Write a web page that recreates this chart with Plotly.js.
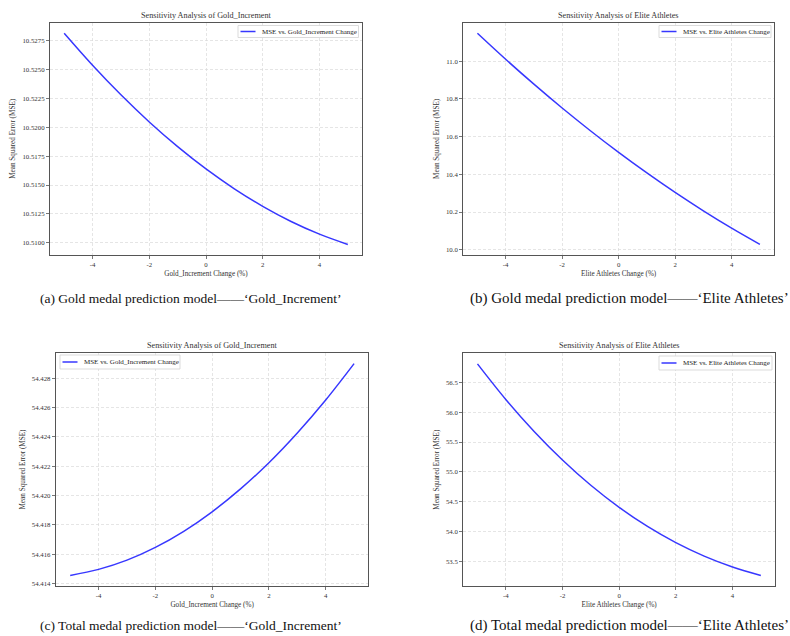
<!DOCTYPE html>
<html>
<head>
<meta charset="utf-8">
<script src="https://cdn.plot.ly/plotly-3.0.1.min.js"></script>
<style>html,body{margin:0;padding:0;background:#fff;}#chart{width:790px;height:636px;}</style>
</head>
<body>
<div id="chart"></div>
<script>
// Data
const changePct = [-5, -4, -3, -2, -1, 0, 1, 2, 3, 4, 5];
const goldModelGoldInc = [10.52815, 10.52538, 10.52282, 10.52047, 10.51833, 10.51640, 10.51468, 10.51316, 10.51185, 10.51075, 10.50986];
const goldModelElite = [11.148, 11.010, 10.878, 10.7515, 10.631, 10.516, 10.407, 10.3035, 10.206, 10.114, 10.028];
const totalModelGoldInc = [54.41455, 54.41496, 54.41559, 54.41646, 54.41756, 54.41889, 54.42045, 54.42224, 54.42427, 54.42652, 54.42900];
const totalModelElite = [56.8105, 56.2138, 55.6773, 55.1986, 54.7753, 54.4050, 54.0853, 53.8138, 53.5881, 53.4058, 53.2645];

const xTicks = [-4, -2, 0, 2, 4];
const yTicksA = [10.5100, 10.5125, 10.5150, 10.5175, 10.5200, 10.5225, 10.5250, 10.5275];
const yTicksB = [10.0, 10.2, 10.4, 10.6, 10.8, 11.0];
const yTicksC = [54.414, 54.416, 54.418, 54.420, 54.422, 54.424, 54.426, 54.428];
const yTicksD = [53.5, 54.0, 54.5, 55.0, 55.5, 56.0, 56.5];

const titles = ["Sensitivity Analysis of Gold_Increment", "Sensitivity Analysis of Elite Athletes",
                "Sensitivity Analysis of Gold_Increment", "Sensitivity Analysis of Elite Athletes"];
const xTitles = ["Gold_Increment Change (%)", "Elite Athletes Change (%)", "Gold_Increment Change (%)", "Elite Athletes Change (%)"];
const legendNames = ["MSE vs. Gold_Increment Change", "MSE vs. Elite Athletes Change", "MSE vs. Gold_Increment Change", "MSE vs. Elite Athletes Change"];
const captions = ["(a) Gold medal prediction model——‘Gold_Increment’", "(b) Gold medal prediction model——‘Elite Athletes’",
                  "(c) Total medal prediction model——‘Gold_Increment’", "(d) Total medal prediction model——‘Elite Athletes’"];

const W = 790, H = 636;
const FONT = "Liberation Serif";
const LINE_COLOR = "rgba(20,20,255,0.85)";
const series = [goldModelGoldInc, goldModelElite, totalModelGoldInc, totalModelElite];
const yTickSets = [yTicksA, yTicksB, yTicksC, yTicksD];
const yFormats = [".4f", ".1f", ".3f", ".1f"];
// plot boxes in pixels [left, right, top, bottom]
const boxes = [[50, 362, 22.7, 255], [463.3, 774, 22.7, 255], [56, 368.3, 353, 586], [463.3, 775, 353.3, 586]];
// legend boxes in pixels [x0, x1, y0, y1]
const legBoxes = [[238, 358.5, 25.5, 37.5], [659, 771, 25.5, 37.5], [60, 180, 355, 369], [659, 772, 356, 370]];
const capPos = [[38, 298, 13.5], [468, 298, 15], [38, 625, 13.5], [468, 625, 15]];

const px = v => v / W, py = v => 1 - v / H;

const traces = [];
const layout = {
  width: W, height: H,
  margin: {l: 0, r: 0, t: 0, b: 0},
  paper_bgcolor: "#fff", plot_bgcolor: "#fff",
  font: {family: FONT, color: "#333"},
  showlegend: false,
  annotations: [], shapes: []
};

for (let i = 0; i < 4; i++) {
  const s = i === 0 ? "" : String(i + 1);
  const [l, r, t, b] = boxes[i];
  const ys = series[i];
  const mn = Math.min(...ys), mx = Math.max(...ys), pad = (mx - mn) * 0.05;
  traces.push({
    x: changePct, y: ys, type: "scatter", mode: "lines",
    line: {color: LINE_COLOR, width: 1.5, shape: "spline", smoothing: 1},
    name: legendNames[i],
    xaxis: "x" + s, yaxis: "y" + s
  });
  const axCommon = {
    showline: true, mirror: true, linecolor: "#555", linewidth: 1.1,
    ticks: "outside", ticklen: 3, tickwidth: 0.8, tickcolor: "#555",
    showgrid: true, gridcolor: "#dadada", griddash: "3px,2px", gridwidth: 0.7,
    zeroline: false, tickfont: {family: FONT, size: 6.8, color: "#333"}
  };
  layout["xaxis" + s] = Object.assign({}, axCommon, {
    domain: [px(l), px(r)], anchor: "y" + s,
    range: [-5.5, 5.5], tickvals: xTicks, ticktext: xTicks.map(v => String(v)),
    title: {text: xTitles[i], font: {family: FONT, size: 7.2, color: "#333"}, standoff: 3}
  });
  layout["yaxis" + s] = Object.assign({}, axCommon, {
    domain: [py(b), py(t)], anchor: "x" + s,
    range: [mn - pad, mx + pad], tickvals: yTickSets[i], tickformat: yFormats[i],
    title: {text: "Mean Squared Error (MSE)", font: {family: FONT, size: 7.2, color: "#333"}, standoff: 5}
  });
  // subplot title
  layout.annotations.push({
    text: titles[i], xref: "paper", yref: "paper",
    x: px((l + r) / 2), y: py(t - 7.5), xanchor: "center", yanchor: "middle",
    showarrow: false, font: {family: FONT, size: 8.2, color: "#333"}
  });
  // legend (box, line sample, label)
  const [bx0, bx1, by0, by1] = legBoxes[i];
  const ly = (by0 + by1) / 2;
  layout.shapes.push({
    type: "rect", xref: "paper", yref: "paper",
    x0: px(bx0), x1: px(bx1), y0: py(by1), y1: py(by0),
    line: {color: "#d2d2d2", width: 0.8}, fillcolor: "rgba(255,255,255,0.9)", layer: "above"
  });
  layout.shapes.push({
    type: "line", xref: "paper", yref: "paper",
    x0: px(bx0 + 2.5), x1: px(bx0 + 17.5), y0: py(ly), y1: py(ly),
    line: {color: LINE_COLOR, width: 1.5}, layer: "above"
  });
  layout.annotations.push({
    text: legendNames[i], xref: "paper", yref: "paper",
    x: px(bx0 + 22), y: py(ly), xanchor: "left", yanchor: "middle",
    showarrow: false, font: {family: FONT, size: 7.0, color: "#222"}
  });
  // caption
  layout.annotations.push({
    text: captions[i], xref: "paper", yref: "paper",
    x: px(capPos[i][0]), y: py(capPos[i][1]), xanchor: "left", yanchor: "middle",
    showarrow: false, font: {family: FONT, size: capPos[i][2], color: "#111"}
  });
}

Plotly.newPlot("chart", traces, layout, {displayModeBar: false, staticPlot: true});
</script>
</body>
</html>
